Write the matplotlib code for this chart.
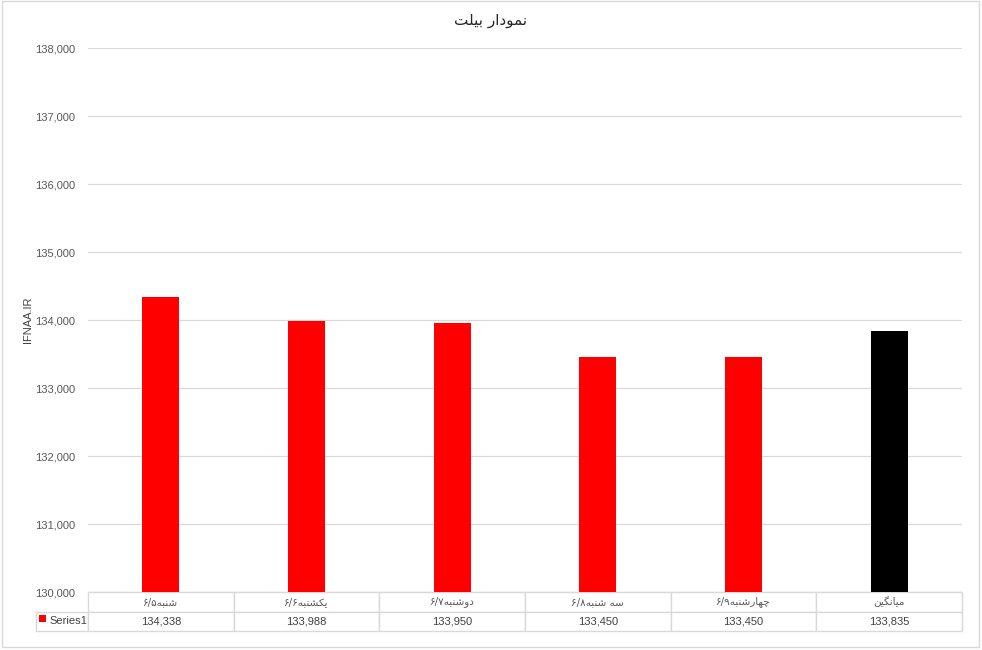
import matplotlib
matplotlib.use('Agg')
import matplotlib.pyplot as plt
from matplotlib.table import Table
from matplotlib.patches import Rectangle
import numpy as np

plt.rcParams['font.family'] = ['Liberation Sans', 'DejaVu Sans']

# data
day_names = ['شنبه', 'یکشنبه', 'دوشنبه', 'سه شنبه', 'چهارشنبه', 'میانگین']
day_dates = ['۶/۵', '۶/۶', '۶/۷', '۶/۸', '۶/۹', '']
prices = [134338, 133988, 133950, 133450, 133450, 133835]
bar_colors = ['#ff0000', '#ff0000', '#ff0000', '#ff0000', '#ff0000', '#000000']
series_name = 'Series1'
title = 'نمودار بیلت'
y_label = 'IFNAA.IR'

# matplotlib has no arabic shaping, so pick presentation forms by hand
# (isolated, final, initial, medial); None = letter does not join forward
FORMS = {
    'ا': ('\uFE8D', '\uFE8E', None, None),
    'ب': ('\uFE8F', '\uFE90', '\uFE91', '\uFE92'),
    'ت': ('\uFE95', '\uFE96', '\uFE97', '\uFE98'),
    'چ': ('\uFB7A', '\uFB7B', '\uFB7C', '\uFB7D'),
    'د': ('\uFEA9', '\uFEAA', None, None),
    'ر': ('\uFEAD', '\uFEAE', None, None),
    'س': ('\uFEB1', '\uFEB2', '\uFEB3', '\uFEB4'),
    'ش': ('\uFEB5', '\uFEB6', '\uFEB7', '\uFEB8'),
    'ک': ('\uFB8E', '\uFB8F', '\uFB90', '\uFB91'),
    'گ': ('\uFB92', '\uFB93', '\uFB94', '\uFB95'),
    'ل': ('\uFEDD', '\uFEDE', '\uFEDF', '\uFEE0'),
    'م': ('\uFEE1', '\uFEE2', '\uFEE3', '\uFEE4'),
    'ن': ('\uFEE5', '\uFEE6', '\uFEE7', '\uFEE8'),
    'ه': ('\uFEE9', '\uFEEA', '\uFEEB', '\uFEEC'),
    'و': ('\uFEED', '\uFEEE', None, None),
    'ی': ('\uFBFC', '\uFBFD', '\uFBFE', '\uFBFF'),
}


def shape(text):
    out = []
    for i, c in enumerate(text):
        if c not in FORMS:
            out.append(c)
            continue
        prev = text[i - 1] if i > 0 else None
        nxt = text[i + 1] if i + 1 < len(text) else None
        jp = prev in FORMS and FORMS[prev][2] is not None
        jn = nxt in FORMS and FORMS[c][2] is not None
        iso, fin, ini, med = FORMS[c]
        if jp and jn:
            out.append(med)
        elif jp:
            out.append(fin)
        elif jn:
            out.append(ini)
        else:
            out.append(iso)
    return ''.join(reversed(out))


labels = [d + shape(n) for n, d in zip(day_names, day_dates)]

W, H = 982, 650
fig = plt.figure(figsize=(W / 100, H / 100), dpi=100)
ax = fig.add_axes([88 / W, 1 - 592 / H, 874 / W, 544 / H])

x = np.arange(len(prices))
ax.bar(x, prices, width=0.255, color=bar_colors, zorder=3)
ax.set_xlim(-0.5, len(prices) - 0.5)
ax.set_ylim(130000, 138000)
ax.set_yticks(np.arange(130000, 138001, 1000))
ax.yaxis.set_major_formatter(matplotlib.ticker.FuncFormatter(lambda v, p: f'{int(v):,}'))
ax.tick_params(axis='y', length=0, pad=9, labelsize=8, labelcolor='#595959')
ax.set_xticks([])
ax.grid(axis='y', color='#d9d9d9', linewidth=0.9, zorder=0)
for s in ax.spines.values():
    s.set_visible(False)
ax.set_ylabel(y_label, fontsize=8, color='#404040')
ax.yaxis.set_label_coords(-55 / 874, 0.5)

# data table under the plot (bbox covers the grid, the label column sits left of it)
tbl = Table(ax, bbox=[0, -39 / 544, 1, 39 / 544])
cw = 1.0 / len(prices)
lw = cw * 52 / (874 / len(prices))
for j, lab in enumerate(labels):
    c = tbl.add_cell(0, j, width=cw, height=0.5, text=lab, loc='center')
    c.get_text().set_fontsize(7.5)
    c.get_text().set_color('#595959')
    c.get_text().set_family(['DejaVu Sans'])
    c.set_edgecolor('#d9d9d9')
for j, v in enumerate(prices):
    c = tbl.add_cell(1, j, width=cw, height=0.5, text=f'{v:,}', loc='center')
    c.get_text().set_fontsize(8)
    c.get_text().set_color('#404040')
    c.set_edgecolor('#d9d9d9')
c = tbl.add_cell(1, -1, width=lw, height=0.5, text=series_name, loc='right')
c.get_text().set_fontsize(8)
c.get_text().set_color('#404040')
c.PAD = 0.02
c.set_edgecolor('#d9d9d9')
tbl.auto_set_font_size(False)
ax.add_table(tbl)
ax.add_patch(Rectangle((-49 / 874, -29.5 / 544), 7 / 874, 7 / 544, transform=ax.transAxes,
                       facecolor=bar_colors[0], edgecolor='none', clip_on=False))

fig.text(0.5, 1 - 20 / H, shape(title), ha='center', va='center', fontsize=11,
         color='#262626', family=['DejaVu Sans'])
fig.patches.append(Rectangle((2 / W, 3 / H), 977 / W, 646 / H, transform=fig.transFigure,
                             fill=False, edgecolor='#d9d9d9', linewidth=1))

fig.savefig('out.png', dpi=100)
